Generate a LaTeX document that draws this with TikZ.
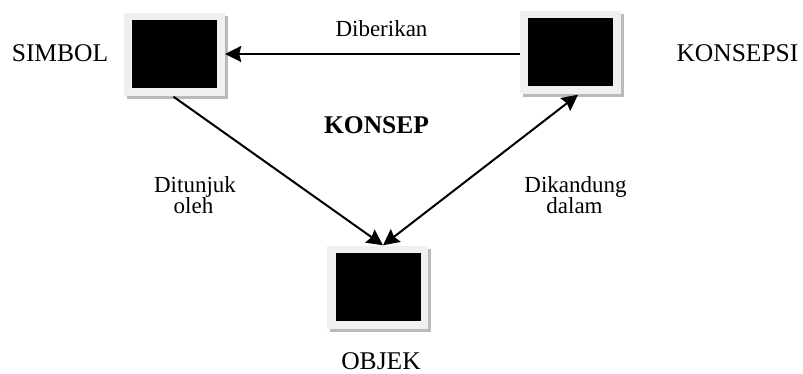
\documentclass[tikz,border=0pt]{standalone}
\usepackage{fontspec}
\setmainfont{Liberation Serif}
\usetikzlibrary{arrows.meta,shadows}
\tikzset{
  frame/.style={rectangle, minimum width=101pt, minimum height=83pt, inner sep=0pt,
    fill=black!6, draw=none, drop shadow={shadow xshift=3pt, shadow yshift=-3pt, fill=black!27, opacity=1}},
  core/.style={rectangle, minimum width=85pt, minimum height=68pt, inner sep=0pt, fill=black},
  bigtxt/.style={font=\fontsize{25.5}{30}\selectfont, anchor=base, inner sep=0pt},
  lbl/.style={font=\fontsize{23}{21}\selectfont, anchor=base, inner sep=0pt},
  conn/.style={line width=2pt, -{Stealth[length=16pt,width=16pt,inset=2pt]}},
  conn2/.style={line width=2pt, {Stealth[length=16pt,width=16pt,inset=2pt]}-{Stealth[length=16pt,width=16pt,inset=2pt]}}
}
\begin{document}
\begin{tikzpicture}[x=1pt,y=-1pt]
\useasboundingbox (0,0) rectangle (803,374);
% boxes
\node[frame] (simbol) at (174.5,55) {};
\node[core] (simbolin) at (174.5,54) {};
\node[frame] (konsepsi) at (570.5,53) {};
\node[core] (konsepsiin) at (570.5,52) {};
\node[frame] (objek) at (377.5,287) {};
\node[core] (objekin) at (378,287) {};
% texts
\node[bigtxt] (tsimbol) at (60,62) {SIMBOL};
\node[bigtxt] (tkonsepsi) at (737.5,62) {KONSEPSI};
\node[bigtxt] (tobjek) at (381,369) {OBJEK};
\node[bigtxt, font=\fontsize{25.5}{30}\selectfont\bfseries] (tkonsep) at (376.5,134) {KONSEP};
\node[lbl] (tdiberikan) at (381.5,36.5) {Diberikan};
\node[lbl] (tditunjuk1) at (195,193) {Ditunjuk};
\node[lbl] (tditunjuk2) at (193.5,214) {oleh};
\node[lbl] (tdikandung1) at (575.5,193) {Dikandung};
\node[lbl] (tdikandung2) at (574.5,214) {dalam};
% connectors
\coordinate (objtop) at ([xshift=5.5pt]objek.north);
\coordinate (simbot) at ([xshift=-1pt]simbol.south);
\coordinate (konbot) at ([xshift=7.5pt]konsepsi.south);
\coordinate (konwest) at ([yshift=-1pt]konsepsi.west);
\draw[conn] (konwest) -- (konwest -| simbol.east);
\draw[conn] (simbot) -- (objtop);
\draw[conn2] (objtop) -- (konbot);
\end{tikzpicture}
\end{document}
